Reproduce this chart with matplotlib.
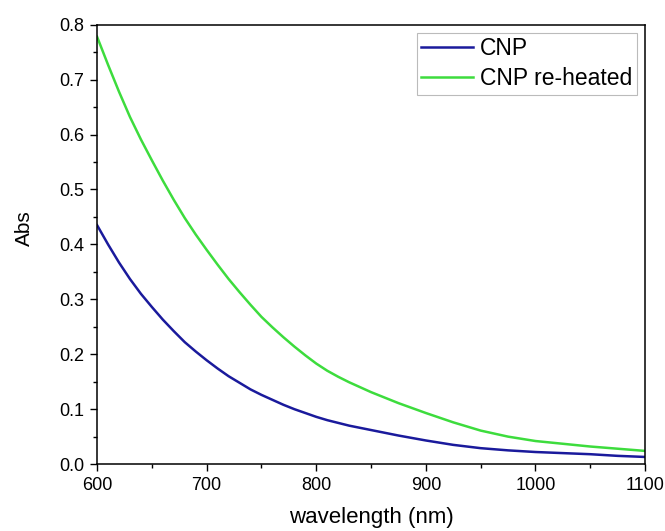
import numpy as np
import matplotlib
matplotlib.use('Agg')
from matplotlib import pyplot as plt

plt.rcParams['font.family'] = ['Liberation Sans', 'DejaVu Sans']

# 波长 (nm)
wavelength = [600, 610, 620, 630, 640, 650, 660, 670, 680, 690, 700,
              710, 720, 730, 740, 750, 760, 770, 780, 790, 800,
              810, 820, 830, 840, 850, 875, 900, 925, 950, 975, 1000, 1025, 1050, 1075, 1100]
# 吸光度
abs_cnp = [0.435, 0.400, 0.367, 0.337, 0.310, 0.286, 0.263, 0.242, 0.222, 0.205, 0.189,
           0.174, 0.160, 0.148, 0.136, 0.126, 0.117, 0.108, 0.100, 0.093, 0.086,
           0.080, 0.075, 0.070, 0.066, 0.062, 0.052, 0.043, 0.035, 0.029, 0.025, 0.022, 0.020, 0.018, 0.015, 0.013]
abs_reheated = [0.778, 0.727, 0.678, 0.632, 0.591, 0.553, 0.516, 0.481, 0.448, 0.418, 0.390,
                0.363, 0.337, 0.313, 0.290, 0.268, 0.249, 0.231, 0.214, 0.198, 0.183,
                0.170, 0.159, 0.149, 0.140, 0.131, 0.111, 0.093, 0.076, 0.061, 0.050, 0.042, 0.037, 0.032, 0.028, 0.024]

fig = plt.figure(figsize=(6.65, 5.31), dpi=100)
ax = fig.add_axes([0.146, 0.126, 0.824, 0.8275])

ax.plot(wavelength, abs_cnp, color='#1a1a9c', lw=1.8, label='CNP')
ax.plot(wavelength, abs_reheated, color='#3ddc3d', lw=1.8, label='CNP re-heated')

ax.set_xlim(600, 1100)
ax.set_ylim(0, 0.8)
ax.set_xticks(np.arange(600, 1101, 100))
ax.set_xticks(np.arange(650, 1100, 100), minor=True)
ax.set_yticks(np.arange(0, 0.81, 0.1))
ax.set_yticks(np.arange(0.05, 0.8, 0.1), minor=True)
ax.yaxis.set_major_formatter(matplotlib.ticker.FormatStrFormatter('%.1f'))

ax.tick_params(which='major', direction='out', length=5, width=1, labelsize=13, pad=4)
ax.tick_params(which='minor', direction='out', length=3, width=1)
ax.tick_params(top=False, right=False)
for s in ax.spines.values():
    s.set_linewidth(1.1)

ax.set_xlabel('wavelength (nm)', fontsize=16, va='center')
ax.xaxis.set_label_coords(0.5, -0.122)
ax.set_ylabel('Abs', fontsize=15, va='center')
ax.yaxis.set_label_coords(-0.132, 0.537)

leg = ax.legend(loc='upper right', fontsize=16.5, frameon=True, fancybox=False,
                handlelength=2.27, handletextpad=0.3, borderpad=0.2, labelspacing=0.3,
                borderaxespad=0.35)
leg.get_frame().set_edgecolor('#aaaaaa')
leg.get_frame().set_linewidth(0.8)

plt.savefig('out.png', dpi=100)
